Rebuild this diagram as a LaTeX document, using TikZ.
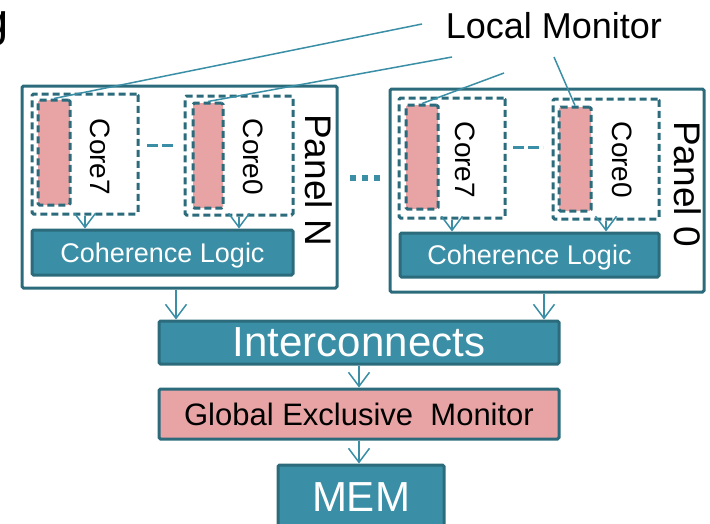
\documentclass[tikz,border=0pt]{standalone}
\usepackage{fontspec}
\setmainfont{Liberation Sans}
\usetikzlibrary{arrows.meta}

\definecolor{cohfill}{HTML}{3A8FA6}
\definecolor{edgeteal}{HTML}{2B6B7B}
\definecolor{linkteal}{HTML}{3A8FA6}
\definecolor{monpink}{HTML}{E8A4A4}

\begin{document}
\begin{tikzpicture}[x=1pt,y=-1pt,
	panel/.style={draw=edgeteal, line width=3pt, rounded corners=1.5pt, inner sep=0pt},
	corebox/.style={draw=edgeteal, line width=3pt, dash pattern=on 7pt off 4pt, rounded corners=1.5pt, inner sep=0pt, fill=white},
	monbar/.style={corebox, fill=monpink},
	tealbox/.style={draw=edgeteal, line width=3pt, fill=cohfill, rounded corners=1.5pt, inner sep=0pt, text=white},
	coretext/.style={rotate=-90, font=\fontsize{28}{30}\selectfont},
	paneltext/.style={rotate=-90, font=\fontsize{37}{40}\selectfont},
	logictext/.style={font=\fontsize{27}{30}\selectfont, text depth=0pt},
	leader/.style={draw=linkteal, line width=1.5pt},
	flow/.style={draw=linkteal, line width=1.5pt, -{Straight Barb[length=14pt,width=21pt]}}]

	\useasboundingbox (0,0) rectangle (710,523);
	\clip (0,0) rectangle (710,523);

	\node[font=\fontsize{47}{50}\selectfont, anchor=base west] (ttl) at (-21,36) {g};
	\node[font=\fontsize{36}{40}\selectfont, anchor=base] (lm) at (554,38) {Local Monitor};

	% panel N
	\node[panel, minimum width=315pt, minimum height=202pt] (pn) at (179.5,187) {};
	\node[paneltext] (pnt) at (319,180) {Panel N};

	\node[corebox, minimum width=106pt, minimum height=120pt] (nc7) at (85,154) {};
	\node[monbar, minimum width=32pt, minimum height=105pt] (nm7) at (54,152.5) {};
	\node[coretext] (nt7) at (100,157) {Core7};

	\node[corebox, minimum width=108pt, minimum height=119pt] (nc0) at (239,155.5) {};
	\node[monbar, minimum width=30pt, minimum height=105pt] (nm0) at (208,155.5) {};
	\node[coretext] (nt0) at (253,157) {Core0};

	\draw[linkteal, line width=3pt, dash pattern=on 11pt off 4pt] (147,145) -- (173,145);

	\node[tealbox, logictext, minimum width=261pt, minimum height=45pt] (nl) at (162.5,252.5) {Coherence Logic};

	% panel 0
	\node[panel, minimum width=314pt, minimum height=203pt] (pz) at (547,190.5) {};
	\node[paneltext] (pzt) at (688,184) {Panel 0};

	\node[corebox, minimum width=106pt, minimum height=120pt] (zc7) at (452,158) {};
	\node[monbar, minimum width=32pt, minimum height=104pt] (zm7) at (422,157) {};
	\node[coretext] (zt7) at (465,160) {Core7};

	\node[corebox, minimum width=106pt, minimum height=120pt] (zc0) at (606,159) {};
	\node[monbar, minimum width=32pt, minimum height=104pt] (zm0) at (575,159) {};
	\node[coretext] (zt0) at (622,160) {Core0};

	\draw[linkteal, line width=3pt, dash pattern=on 11pt off 4pt] (513,147) -- (543,147);

	\node[tealbox, logictext, minimum width=259pt, minimum height=44pt] (zl) at (529.5,255) {Coherence Logic};

	% dots between panels
	\draw[linkteal, line width=6pt, dash pattern=on 6pt off 6pt] (350,178) -- (384,178);

	% shared part
	\node[tealbox, font=\fontsize{42}{44}\selectfont, minimum width=400pt, minimum height=43pt] (ic) at (359,342.5) {\raisebox{-2.5pt}{Interconnects}};
	\node[tealbox, fill=monpink, text=black, font=\fontsize{31}{34}\selectfont, minimum width=400pt, minimum height=50pt] (gm) at (359,414) {\raisebox{-1.5pt}{Global Exclusive\ \ Monitor}};
	\node[tealbox, font=\fontsize{42}{44}\selectfont, minimum width=166pt, minimum height=64pt] (mem) at (361,497) {MEM};

	% leaders
	\coordinate (lm1) at (422,24);
	\coordinate (lm2) at (452,57);
	\coordinate (lm3) at (504,73);
	\coordinate (lm4) at (554,57);
	\draw[leader] (lm1) -- (nm7.north);
	\draw[leader] (lm2) -- (nm0.north);
	\draw[leader] (lm3) -- (zm7.north);
	\draw[leader] (lm4) -- (zm0.north);

	% arrows
	\foreach \c/\l in {nc7/nl, nc0/nl, zc7/zl, zc0/zl} {
		\draw[flow] (\c.south) -- (\c.south |- \l.north);
	}
	\draw[flow] (pn.south -| 176,0) -- (176,0 |- ic.north);
	\draw[flow] (pz.south -| 544,0) -- (544,0 |- ic.north);
	\draw[flow] (ic.south) -- (gm.north);
	\draw[flow] (gm.south) -- (gm.south |- mem.north);

\end{tikzpicture}
\end{document}
